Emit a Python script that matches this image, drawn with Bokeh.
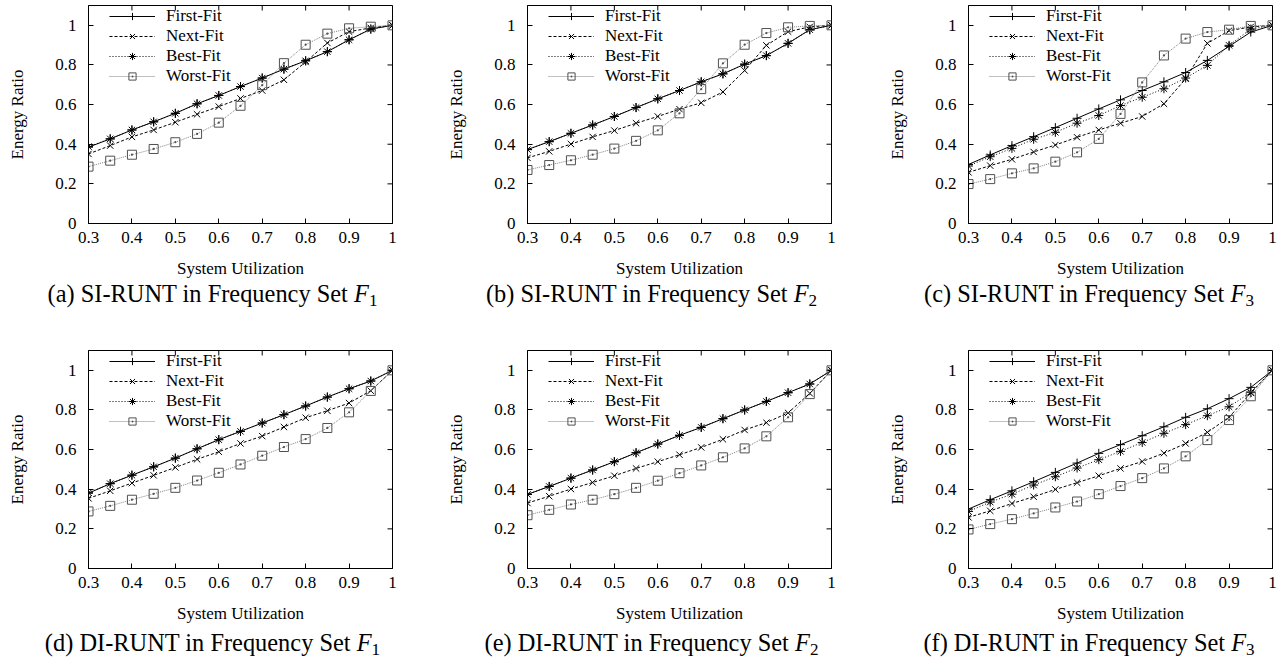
import math
from bokeh.plotting import figure
from bokeh.layouts import column, row
from bokeh.models import Range1d, FixedTicker, Div
from bokeh.embed import file_html
from bokeh.resources import INLINE

# ---------------- data ----------------
util = [0.3, 0.35, 0.4, 0.45, 0.5, 0.55, 0.6, 0.65, 0.7, 0.75, 0.8, 0.85, 0.9, 0.95, 1.0]
x_ticks = [0.3, 0.4, 0.5, 0.6, 0.7, 0.8, 0.9, 1.0]
x_tick_labels = ["0.3", "0.4", "0.5", "0.6", "0.7", "0.8", "0.9", "1"]
y_ticks = [0.0, 0.2, 0.4, 0.6, 0.8, 1.0]
y_tick_labels = ["0", "0.2", "0.4", "0.6", "0.8", "1"]
series_names = ["First-Fit", "Next-Fit", "Best-Fit", "Worst-Fit"]
panel_letters = ["a", "b", "c", "d", "e", "f"]
panel_methods = ["SI-RUNT", "SI-RUNT", "SI-RUNT", "DI-RUNT", "DI-RUNT", "DI-RUNT"]
panel_sets = ["1", "2", "3", "1", "2", "3"]

# (a) SI-RUNT F1
a_ff = [0.385, 0.427, 0.472, 0.513, 0.556, 0.604, 0.646, 0.691, 0.734, 0.779, 0.821, 0.867, 0.927, 0.981, 1.0]
a_nf = [0.351, 0.393, 0.437, 0.472, 0.511, 0.551, 0.590, 0.631, 0.671, 0.725, 0.815, 0.911, 0.968, 0.987, 1.0]
a_bf = [0.388, 0.427, 0.472, 0.513, 0.556, 0.604, 0.646, 0.691, 0.734, 0.779, 0.821, 0.867, 0.927, 0.981, 1.0]
a_wf = [0.287, 0.317, 0.347, 0.376, 0.410, 0.452, 0.509, 0.594, 0.698, 0.809, 0.902, 0.958, 0.985, 0.993, 1.0]
# (b) SI-RUNT F2
b_ff = [0.373, 0.413, 0.455, 0.497, 0.540, 0.585, 0.629, 0.671, 0.715, 0.755, 0.804, 0.847, 0.909, 0.978, 1.0]
b_nf = [0.331, 0.364, 0.401, 0.437, 0.469, 0.506, 0.540, 0.577, 0.609, 0.664, 0.772, 0.899, 0.968, 0.992, 1.0]
b_bf = [0.373, 0.413, 0.455, 0.497, 0.540, 0.585, 0.629, 0.671, 0.715, 0.755, 0.804, 0.847, 0.909, 0.978, 1.0]
b_wf = [0.270, 0.295, 0.319, 0.347, 0.378, 0.417, 0.470, 0.556, 0.678, 0.808, 0.902, 0.961, 0.990, 0.997, 1.0]
# (c) SI-RUNT F3
c_ff = [0.298, 0.346, 0.393, 0.438, 0.484, 0.531, 0.578, 0.624, 0.671, 0.715, 0.762, 0.823, 0.894, 0.966, 1.0]
c_nf = [0.258, 0.292, 0.324, 0.361, 0.396, 0.435, 0.472, 0.506, 0.540, 0.604, 0.730, 0.909, 0.973, 0.992, 1.0]
c_bf = [0.290, 0.337, 0.379, 0.425, 0.460, 0.506, 0.545, 0.595, 0.637, 0.680, 0.734, 0.798, 0.899, 0.981, 1.0]
c_wf = [0.199, 0.224, 0.253, 0.278, 0.312, 0.359, 0.427, 0.553, 0.712, 0.848, 0.933, 0.966, 0.978, 0.997, 1.0]
# (d) DI-RUNT F1
d_ff = [0.380, 0.428, 0.471, 0.513, 0.557, 0.604, 0.650, 0.692, 0.734, 0.776, 0.820, 0.865, 0.907, 0.946, 1.0]
d_nf = [0.354, 0.392, 0.431, 0.470, 0.510, 0.551, 0.589, 0.631, 0.668, 0.714, 0.761, 0.796, 0.835, 0.897, 1.0]
d_bf = [0.382, 0.428, 0.471, 0.513, 0.557, 0.604, 0.650, 0.692, 0.734, 0.776, 0.820, 0.865, 0.907, 0.946, 1.0]
d_wf = [0.288, 0.316, 0.347, 0.377, 0.407, 0.444, 0.483, 0.525, 0.569, 0.613, 0.653, 0.709, 0.788, 0.896, 1.0]
# (e) DI-RUNT F2
e_ff = [0.374, 0.414, 0.456, 0.497, 0.539, 0.584, 0.628, 0.672, 0.712, 0.756, 0.800, 0.843, 0.887, 0.931, 1.0]
e_nf = [0.330, 0.365, 0.401, 0.434, 0.468, 0.505, 0.539, 0.574, 0.611, 0.652, 0.699, 0.736, 0.785, 0.884, 1.0]
e_bf = [0.374, 0.414, 0.456, 0.497, 0.539, 0.584, 0.628, 0.672, 0.712, 0.756, 0.800, 0.843, 0.887, 0.931, 1.0]
e_wf = [0.269, 0.296, 0.323, 0.347, 0.375, 0.407, 0.443, 0.481, 0.520, 0.561, 0.606, 0.667, 0.763, 0.880, 1.0]
# (f) DI-RUNT F3
f_ff = [0.300, 0.347, 0.392, 0.438, 0.485, 0.532, 0.581, 0.625, 0.670, 0.715, 0.763, 0.806, 0.857, 0.914, 1.0]
f_nf = [0.258, 0.291, 0.328, 0.362, 0.399, 0.433, 0.468, 0.505, 0.540, 0.582, 0.631, 0.687, 0.763, 0.886, 1.0]
f_bf = [0.288, 0.335, 0.375, 0.421, 0.463, 0.507, 0.549, 0.591, 0.636, 0.682, 0.726, 0.771, 0.816, 0.889, 1.0]
f_wf = [0.197, 0.224, 0.249, 0.278, 0.308, 0.338, 0.375, 0.416, 0.456, 0.505, 0.566, 0.648, 0.749, 0.869, 1.0]

panel_data = [
    (a_ff, a_nf, a_bf, a_wf),
    (b_ff, b_nf, b_bf, b_wf),
    (c_ff, c_nf, c_bf, c_wf),
    (d_ff, d_nf, d_bf, d_wf),
    (e_ff, e_nf, e_bf, e_wf),
    (f_ff, f_nf, f_bf, f_wf),
]

# ---------------- styles ----------------
FONT = "Liberation Serif"
styles = [
    dict(line_color="black", line_dash="solid", marker="cross", size=9, mcolor="black"),
    dict(line_color="black", line_dash="3 2", marker="x", size=9, mcolor="black"),
    dict(line_color="black", line_dash="1 2", marker="asterisk", size=9, mcolor="black"),
    dict(line_color="#808080", line_dash="1 1", marker="square_dot", size=9, mcolor="#505050"),
]

FRAME_W = 304
FRAME_H = 218
col_left = [88, 90, 90]
col_right = [45, 47, 6]
caption_shift = [-6, -6, 11]


def make_panel(i):
    r = i // 3
    c = i % 3
    top = 5 if r == 0 else 0
    bottom = 59 if r == 0 else 63
    p = figure(frame_width=FRAME_W, frame_height=FRAME_H,
               min_border_left=col_left[c], min_border_right=col_right[c],
               min_border_top=top, min_border_bottom=bottom,
               x_range=Range1d(0.3, 1.0), y_range=Range1d(0, 1.1),
               output_backend="svg", toolbar_location=None,
               background_fill_color="white", border_fill_color="white")
    p.xgrid.visible = False
    p.ygrid.visible = False
    p.outline_line_color = "black"
    p.outline_line_width = 1

    xa = p.xaxis[0]
    ya = p.yaxis[0]
    xa.ticker = FixedTicker(ticks=x_ticks)
    ya.ticker = FixedTicker(ticks=y_ticks)
    xa.major_label_overrides = dict(zip(x_ticks, x_tick_labels))
    ya.major_label_overrides = dict(zip(y_ticks, y_tick_labels))
    xa.axis_label = "System Utilization"
    ya.axis_label = "Energy Ratio"
    for ax in (xa, ya):
        ax.major_tick_in = 5
        ax.major_tick_out = 0
        ax.minor_tick_line_color = None
        ax.axis_line_color = "black"
        ax.major_tick_line_color = "black"
        ax.major_label_text_font = FONT
        ax.major_label_text_font_size = "17px"
        ax.major_label_text_color = "black"
        ax.axis_label_text_font = FONT
        ax.axis_label_text_font_size = "17px"
        ax.axis_label_text_font_style = "normal"
        ax.axis_label_text_color = "black"
    xa.major_label_standoff = 8
    ya.major_label_standoff = 12
    xa.axis_label_standoff = 13
    ya.axis_label_standoff = 25

    # mirrored inward ticks on top and right edges (gnuplot style)
    p.ray(x=x_ticks, y=[p.y_range.end] * len(x_ticks), length=5, length_units="screen",
          angle=-math.pi / 2, line_color="black", line_width=1)
    p.ray(x=[p.x_range.end] * len(y_ticks), y=y_ticks, length=5, length_units="screen",
          angle=math.pi, line_color="black", line_width=1)

    for name, ys, st in zip(series_names, panel_data[i], styles):
        p.line(util, ys, line_color=st["line_color"], line_dash=st["line_dash"],
               line_width=1, legend_label=name)
        p.scatter(util, ys, marker=st["marker"], size=st["size"],
                  line_color=st["mcolor"], fill_color=None, line_width=1,
                  legend_label=name)

    lg = p.legend[0]
    lg.location = (21, 137)
    lg.border_line_color = None
    lg.background_fill_alpha = 0
    lg.padding = 0
    lg.margin = 0
    lg.spacing = 0
    lg.label_height = 18
    lg.glyph_height = 18
    lg.glyph_width = 46
    lg.label_standoff = 11
    lg.label_text_font = FONT
    lg.label_text_font_size = "17px"
    lg.label_text_color = "black"

    cap = (f"<span style='position:relative;left:{caption_shift[c]}px'>"
           f"({panel_letters[i]}) {panel_methods[i]} in Frequency Set "
           f"<i>F</i><sub style='font-size:0.7em;vertical-align:-0.25em;line-height:0'>{panel_sets[i]}</sub></span>")
    fig_w = col_left[c] + FRAME_W + col_right[c]
    div_h = 68 if r == 0 else 26
    d = Div(text=cap, width=fig_w, height=div_h, margin=(0, 0, 0, 0),
            styles={"font-family": FONT, "font-size": "24.4px", "line-height": "24px",
                    "text-align": "center", "color": "black", "white-space": "nowrap",
                    "overflow": "visible"})
    return column(p, d, spacing=0)


cells = [make_panel(i) for i in range(6)]
layout = column(row(*cells[:3], spacing=0), row(*cells[3:], spacing=0), spacing=0)

open("out.html", "w").write(file_html(layout, INLINE))
